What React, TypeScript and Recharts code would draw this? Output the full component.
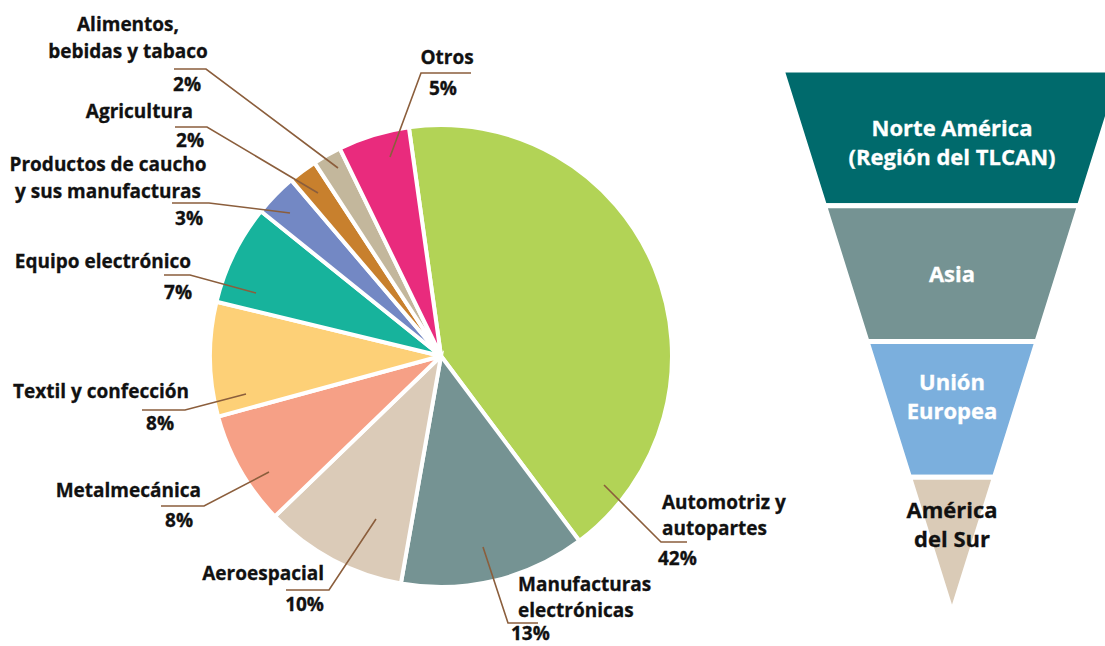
import React from 'react';
import { PieChart, Pie, Cell, FunnelChart, Funnel } from 'recharts';

const sectors = [
  'Automotriz y autopartes',
  'Manufacturas electrónicas',
  'Aeroespacial',
  'Metalmecánica',
  'Textil y confección',
  'Equipo electrónico',
  'Productos de caucho y sus manufacturas',
  'Agricultura',
  'Alimentos, bebidas y tabaco',
  'Otros',
];
const shares = [42, 13, 10, 8, 8, 7, 3, 2, 2, 5];
const sectorColors = ['#B2D356', '#759393', '#DBCBB8', '#F6A086', '#FDD077', '#17B39C', '#7388C4', '#C8802D', '#C3B79C', '#E92B7D'];
const sectorLines = [
  ['Automotriz y', 'autopartes'],
  ['Manufacturas', 'electrónicas'],
  ['Aeroespacial'],
  ['Metalmecánica'],
  ['Textil y confección'],
  ['Equipo electrónico'],
  ['Productos de caucho', 'y sus manufacturas'],
  ['Agricultura'],
  ['Alimentos,', 'bebidas y tabaco'],
  ['Otros'],
];

const regions = ['Norte América (Región del TLCAN)', 'Asia', 'Unión Europea', 'América del Sur'];
const regionRank = [4, 3, 2, 1];
const regionColors = ['#006A6C', '#759393', '#7BAFDD', '#DACBB7'];
const regionLines = [['Norte América', '(Región del TLCAN)'], ['Asia'], ['Unión', 'Europea'], ['América', 'del Sur']];
const regionTextColors = ['#ffffff', '#ffffff', '#ffffff', '#111111'];

// label layout (positions of annotation text / leader lines)
type Anchor = 'start' | 'middle' | 'end';
const labelLayout: { nx: number; na: Anchor; ny: number[]; px: number; pa: Anchor; py: number; line: number[][] }[] = [
  { nx: 662, na: 'start', ny: [502, 528], px: 658, pa: 'start', py: 558, line: [[604, 485], [661, 542], [687, 542]] },
  { nx: 518, na: 'start', ny: [584, 610], px: 511, pa: 'start', py: 633, line: [[483, 547], [508, 623], [538, 623]] },
  { nx: 324, na: 'end', ny: [573], px: 324, pa: 'end', py: 604, line: [[376, 519], [329, 590], [286, 590]] },
  { nx: 201, na: 'end', ny: [490], px: 193, pa: 'end', py: 520, line: [[269, 472], [204, 506], [161, 506]] },
  { nx: 189, na: 'end', ny: [391], px: 174, pa: 'end', py: 423, line: [[246, 394], [185, 410], [142, 410]] },
  { nx: 191, na: 'end', ny: [261], px: 192, pa: 'end', py: 292, line: [[256, 293], [190, 275], [164, 275]] },
  { nx: 108, na: 'middle', ny: [164, 191], px: 203, pa: 'end', py: 218, line: [[290, 213], [209, 203], [172, 203]] },
  { nx: 193, na: 'end', ny: [111], px: 204, pa: 'end', py: 140, line: [[318, 193], [207, 127], [175, 127]] },
  { nx: 128, na: 'middle', ny: [24, 51], px: 201, pa: 'end', py: 84, line: [[338, 168], [206, 69], [174, 69]] },
  { nx: 447, na: 'middle', ny: [57], px: 443, pa: 'middle', py: 88, line: [[390, 157], [421, 73], [471, 73]] },
];
const regionTextOffset = [4, -1, -14, -22];

const FONT = "'Open Sans', sans-serif";
const pieData = sectors.map((name, i) => ({ name, value: shares[i] }));
const funnelData = regions.map((name, i) => ({ name, value: regionRank[i] }));

const renderLabel = (props: any) => {
  const i = props.index;
  const L = labelLayout[i];
  const tp = { dominantBaseline: 'central' as const, fontFamily: FONT, fontWeight: 700, fontSize: 19, fill: '#111', stroke: '#111', strokeWidth: 0.3 };
  return (
    <g key={`lbl-${i}`}>
      <polyline points={L.line.map((p) => p.join(',')).join(' ')} fill="none" stroke="#8B5E3C" strokeWidth={1.6} />
      {sectorLines[i].map((t, k) => (
        <text key={k} x={L.nx} y={L.ny[k]} textAnchor={L.na} {...tp}>
          {t}
        </text>
      ))}
      <text x={L.px} y={L.py} textAnchor={L.pa} {...tp}>
        {`${shares[i]}%`}
      </text>
    </g>
  );
};

const renderTrap = (props: any) => {
  const { x, y, upperWidth, lowerWidth, height, fill } = props;
  const idx = regions.indexOf(props.name ?? props.payload?.name);
  const gap = (upperWidth - lowerWidth) / 2;
  const d = `M${x},${y} L${x + upperWidth},${y} L${x + upperWidth - gap},${y + height} L${x + gap},${y + height} Z`;
  const lines = regionLines[idx] || [];
  const cxm = x + upperWidth / 2;
  const cym = y + height / 2 + (regionTextOffset[idx] || 0);
  const lh = 29;
  const col = regionTextColors[idx];
  return (
    <g>
      <path d={d} fill={fill} stroke="#ffffff" strokeWidth={5} />
      {lines.map((t, k) => (
        <text key={k} x={cxm} y={cym + (k - (lines.length - 1) / 2) * lh} textAnchor="middle" dominantBaseline="central" fontFamily={FONT} fontWeight={700} fontSize={22} fill={col} stroke={col} strokeWidth={0.3}>
          {t}
        </text>
      ))}
    </g>
  );
};

export default function App() {
  return (
    <div style={{ position: 'absolute', left: 0, top: 0, width: 1105, height: 646, overflow: 'hidden', background: '#fff' }}>
      <div style={{ position: 'absolute', left: 0, top: 0 }}>
        <PieChart width={800} height={646} margin={{ top: 0, right: 0, bottom: 0, left: 0 }}>
          <Pie
            data={pieData}
            dataKey="value"
            nameKey="name"
            cx={441}
            cy={356}
            outerRadius={231}
            startAngle={98}
            endAngle={-262}
            stroke="#ffffff"
            strokeWidth={4}
            label={renderLabel}
            labelLine={false}
            isAnimationActive={false}
          >
            {pieData.map((d, i) => (
              <Cell key={d.name} fill={sectorColors[i]} />
            ))}
          </Pie>
        </PieChart>
      </div>
      <div style={{ position: 'absolute', left: 782, top: 70 }}>
        <FunnelChart width={340} height={543} margin={{ top: 0, right: 0, bottom: 0, left: 0 }}>
          <Funnel
            data={funnelData}
            dataKey="value"
            nameKey="name"
            lastShapeType="triangle"
            shape={renderTrap}
            isAnimationActive={false}
          >
            {funnelData.map((d, i) => (
              <Cell key={d.name} fill={regionColors[i]} />
            ))}
          </Funnel>
        </FunnelChart>
      </div>
    </div>
  );
}
